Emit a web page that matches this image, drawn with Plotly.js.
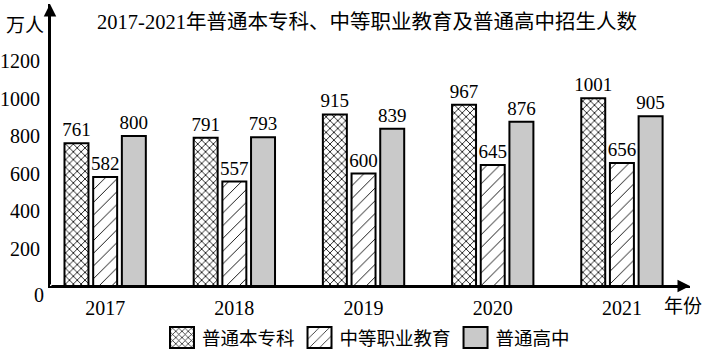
<!DOCTYPE html>
<html>
<head>
<meta charset="utf-8">
<script src="https://cdn.plot.ly/plotly-3.0.1.min.js"></script>
<style>html,body{margin:0;padding:0;background:#fff;}#chart{width:705px;height:353px;}</style>
</head>
<body>
<div id="chart"></div>
<script>
const years = [2017, 2018, 2019, 2020, 2021];
const yearLabels = ['2017', '2018', '2019', '2020', '2021'];
const seriesNames = ['普通本专科', '中等职业教育', '普通高中'];
const undergrad = [761, 791, 915, 967, 1001];
const vocational = [582, 557, 600, 645, 656];
const highschool = [800, 793, 839, 876, 905];
const yTickVals = [0, 200, 400, 600, 800, 1000, 1200];

const serif = 'Liberation Serif, Times New Roman, Noto Sans CJK SC, serif';
const cjk = 'Noto Sans CJK SC, sans-serif';

function barTrace(name, vals, marker) {
  return {
    type: 'bar', name: name, x: years, y: vals,
    text: vals.map(String), textposition: 'outside', constraintext: 'none',
    cliponaxis: false,
    textfont: {family: serif, size: 19, color: '#000'},
    marker: marker, hoverinfo: 'skip'
  };
}

const traces = [
  barTrace(seriesNames[0], undergrad, {
    color: '#fff', line: {color: '#000', width: 2},
    pattern: {shape: 'x', fgcolor: '#000', bgcolor: '#fff', size: 5.5, solidity: 0.28}
  }),
  barTrace(seriesNames[1], vocational, {
    color: '#fff', line: {color: '#000', width: 2},
    pattern: {shape: '/', fgcolor: '#000', bgcolor: '#fff', size: 9, solidity: 0.1}
  }),
  barTrace(seriesNames[2], highschool, {
    color: '#c9c9c9', line: {color: '#000', width: 2}
  })
];

const layout = {
  width: 705, height: 353,
  margin: {l: 50, r: 15, t: 4, b: 67},
  paper_bgcolor: '#fff', plot_bgcolor: '#fff',
  barmode: 'group', bargap: 0.334, bargroupgap: 0.164,
  font: {family: serif, color: '#000'},
  title: {
    text: '2017-2021年普通本专科、中等职业教育及普通高中招生人数',
    font: {family: serif, size: 20.5, color: '#000'},
    x: 367 / 705, xanchor: 'center', xref: 'container',
    y: 1 - 22 / 353, yanchor: 'middle', yref: 'container'
  },
  xaxis: {
    range: [2016.573, 2021.527], tickvals: years, ticktext: yearLabels,
    showgrid: false, zeroline: false, showline: true, linecolor: '#000', linewidth: 2,
    ticks: '', tickfont: {family: serif, size: 20, color: '#000'}, ticklabelstandoff: 3
  },
  yaxis: {
    range: [0, 1504], tickvals: yTickVals.slice(1), ticktext: yTickVals.slice(1).map(String),
    showgrid: false, zeroline: false, showline: true, linecolor: '#000', linewidth: 2,
    ticks: '', tickfont: {family: serif, size: 20, color: '#000'}, ticklabelstandoff: 4
  },
  showlegend: true,
  legend: {
    orientation: 'h', xref: 'paper', x: (162 - 50) / 640, xanchor: 'left',
    yref: 'container', y: 15 / 353, yanchor: 'middle',
    font: {family: cjk, size: 18.5, color: '#000'}, itemwidth: 30, tracegroupgap: 0,
    bgcolor: 'rgba(0,0,0,0)'
  },
  annotations: [
    {xref: 'paper', yref: 'paper', x: 0, y: 1, ax: 0, ay: 282, axref: 'pixel', ayref: 'pixel',
     showarrow: true, arrowhead: 2, arrowsize: 1.25, arrowwidth: 2, arrowcolor: '#000', text: '', standoff: 0},
    {xref: 'paper', yref: 'paper', x: 1, y: 0, ax: -640, ay: 0, axref: 'pixel', ayref: 'pixel',
     showarrow: true, arrowhead: 2, arrowsize: 1.25, arrowwidth: 2, arrowcolor: '#000', text: '', standoff: 0},
    {xref: 'paper', yref: 'paper', x: -46 / 640, y: (286 - 24) / 282, xanchor: 'left', yanchor: 'middle',
     text: '万人', showarrow: false, font: {family: cjk, size: 19, color: '#000'}},
    {xref: 'paper', yref: 'paper', x: (662 - 50) / 640, y: 0, yshift: -18, xanchor: 'left', yanchor: 'middle',
     text: '年份', showarrow: false, font: {family: cjk, size: 19, color: '#000'}},
    {xref: 'paper', yref: 'y', x: 0, y: yTickVals[0], xshift: -11, yshift: -9, xanchor: 'center', yanchor: 'middle',
     text: String(yTickVals[0]), showarrow: false, font: {family: serif, size: 20, color: '#000'}}
  ]
};

Plotly.newPlot('chart', traces, layout, {staticPlot: true}).then(function () {
  document.querySelectorAll('.legend .legendbar, .legend .legendpoints path').forEach(function (p) {
    p.setAttribute('d', 'M12,10.5H-12V-10.5H12Z');
    p.style.strokeWidth = '2px';
  });
});
</script>
</body>
</html>
